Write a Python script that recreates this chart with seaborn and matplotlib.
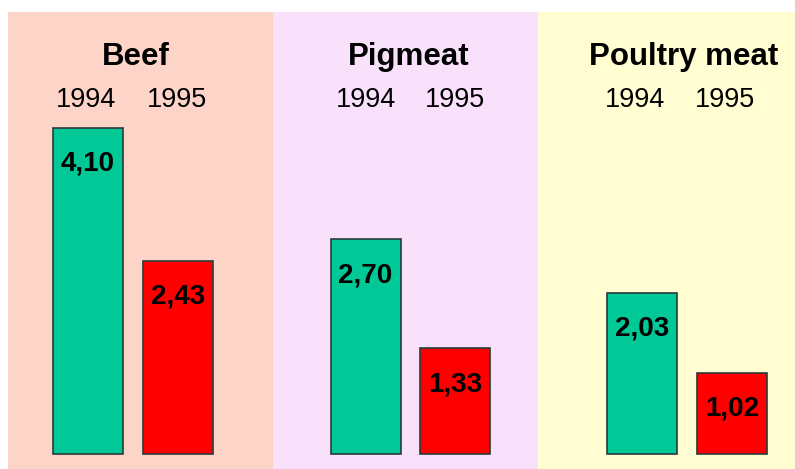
import seaborn as sns
import matplotlib.pyplot as plt
import pandas as pd

sns.set_style('white')
plt.rcParams['font.family'] = ['Liberation Sans', 'DejaVu Sans']
plt.rcParams['text.color'] = 'black'

# Data
meats = ['Beef', 'Pigmeat', 'Poultry meat']
years = ['1994', '1995']
values_1994 = [4.10, 2.70, 2.03]
values_1995 = [2.43, 1.33, 1.02]

panel_colors = ['#FDD4C8', '#FAE1FB', '#FFFDD1']
bar_colors = ['#00C896', '#FF0000']

W, H = 795, 469
fig = plt.figure(figsize=(W / 100, H / 100), dpi=100)
fig.patch.set_facecolor('white')

# panel edges (px), bar centres (px), title centre and year label offset (px)
panel_edges = [(8, 273), (273, 538), (538, 795)]
bar_centres = [(87.5, 178), (365.5, 455), (642, 732)]
title_x = [136, 409, 684]
year_shift = [-1, 0, -7]
base_px, top_px = 454, 12
px_per_unit = 79.5

for i, meat in enumerate(meats):
    left, right = panel_edges[i]
    c0, c1 = bar_centres[i]
    step = c1 - c0
    ax = fig.add_axes([left / W, 0, (right - left) / W, (H - top_px) / H])
    ax.set_facecolor(panel_colors[i])

    df = pd.DataFrame({'year': years, 'value': [values_1994[i], values_1995[i]]})
    sns.barplot(data=df, x='year', y='value', hue='year', palette=bar_colors,
                saturation=1, width=70 / step, edgecolor='#2a3a3a', linewidth=1.2,
                legend=False, ax=ax)

    ax.set_xlim(-(c0 - left) / step, 1 + (right - c1) / step)
    ax.set_ylim(-(H - base_px) / px_per_unit, (base_px - top_px) / px_per_unit)

    ax.text((title_x[i] - c0) / step, (base_px - 65) / px_per_unit, meat,
            ha='center', va='baseline', fontsize=22.5, fontweight='bold')
    for j, yr in enumerate(years):
        ax.text(j + year_shift[i] / step, (base_px - 107) / px_per_unit, yr,
                ha='center', va='baseline', fontsize=19.5)
        v = df['value'][j]
        ax.text(j, v - 0.54, f'{v:.2f}'.replace('.', ','), ha='center',
                va='baseline', fontsize=20, fontweight='bold')

    ax.set_xticks([])
    ax.set_yticks([])
    ax.set_xlabel('')
    ax.set_ylabel('')
    for s in ax.spines.values():
        s.set_visible(False)

fig.savefig('out.png', dpi=100, facecolor='white')
